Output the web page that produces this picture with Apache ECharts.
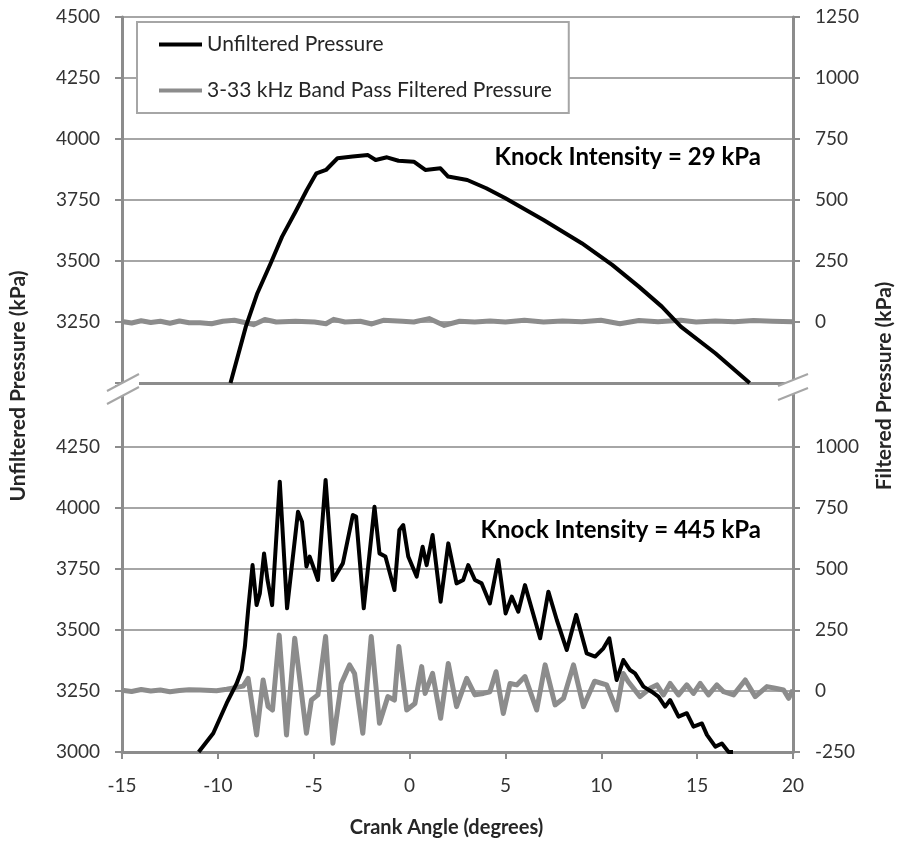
<!DOCTYPE html>
<html>
<head>
<meta charset="utf-8">
<script src="https://cdn.jsdelivr.net/npm/echarts@6/dist/echarts.min.js"></script>
<style>
html,body{margin:0;padding:0;background:#fff;}
#main{width:901px;height:845px;}
</style>
</head>
<body>
<div id="main"></div>
<script>
// crank angle (deg), pressure (kPa) - low knock cycle
var topUnfiltered = [
  [-9.34,3000],[-8.54,3231],[-7.94,3368],[-7.25,3490],[-6.65,3600],[-5.95,3702],[-5.36,3791],
  [-4.96,3846],[-4.86,3859],[-4.36,3873],[-3.76,3921],[-2.97,3928],[-2.17,3934],[-1.77,3914],
  [-1.18,3925],[-0.58,3911],[0.22,3907],[0.82,3873],[1.61,3880],[2.01,3846],[3.01,3832],
  [4.0,3798],[5.0,3757],[6.99,3668],[8.98,3573],[10.57,3484],[11.96,3395],[13.16,3313],
  [14.15,3231],[15.95,3122],[17.74,3000]
];
// band pass filtered (kPa, right axis) - low knock cycle
var topFiltered = [
  [-15,2],[-14.5,-4],[-14,5],[-13.5,-2],[-13,3],[-12.5,-5],[-12,4],[-11.5,-3],
  [-10.93,-3],[-10.33,-7],[-9.74,3],[-9.14,7],[-8.54,-3],[-8.14,-11],[-7.55,10],[-6.95,0],
  [-5.95,3],[-4.96,0],[-4.36,-7],[-3.96,11],[-3.37,0],[-2.57,3],[-1.97,-8],[-1.37,7],
  [-0.38,3],[0.22,0],[1.02,14],[1.81,-14],[2.61,3],[3.4,0],[4.2,4],[5.0,0],[5.99,7],
  [6.99,0],[7.98,4],[8.98,1],[9.98,7],[10.97,-7],[11.96,6],[12.96,1],[14.15,7],[14.95,0],
  [15.95,4],[16.94,1],[17.94,6],[18.93,3],[20,1]
];
// high knock cycle
var knockUnfiltered = [
  [-11.0,3000],[-10.24,3077],[-9.54,3200],[-9.02,3281],[-8.76,3336],[-8.59,3432],[-8.42,3582],
  [-8.19,3766],[-7.98,3602],[-7.81,3650],[-7.59,3814],[-7.41,3705],[-7.17,3602],[-6.77,4108],
  [-6.39,3589],[-5.82,3985],[-5.61,3944],[-5.38,3760],[-5.21,3801],[-4.78,3705],[-4.38,4115],
  [-4.0,3705],[-3.48,3773],[-2.96,3971],[-2.79,3965],[-2.39,3589],[-1.83,4005],[-1.57,3814],
  [-1.26,3801],[-0.79,3664],[-0.53,3910],[-0.33,3930],[-0.07,3801],[0.37,3719],[0.68,3841],
  [0.89,3766],[1.2,3889],[1.62,3616],[2.02,3855],[2.45,3691],[2.8,3705],[3.06,3766],
  [3.41,3705],[3.76,3691],[4.19,3609],[4.63,3787],[5.01,3568],[5.33,3637],[5.67,3575],
  [6.02,3684],[6.81,3466],[7.24,3657],[7.68,3541],[8.2,3418],[8.69,3562],[9.24,3404],
  [9.68,3391],[10.11,3425],[10.42,3466],[10.8,3295],[11.15,3377],[11.5,3336],[11.76,3322],
  [12.2,3268],[12.63,3247],[12.98,3227],[13.33,3186],[13.59,3213],[14.03,3145],[14.46,3159],
  [14.81,3104],[15.25,3117],[15.51,3070],[15.95,3022],[16.29,3035],[16.64,3000],[16.87,3000]
];
var knockFiltered = [
  [-15,3],[-14.5,-2],[-14,6],[-13.5,0],[-13,4],[-12.5,-3],[-12,2],[-11.5,5],[-10.93,4],
  [-10.07,1],[-9.54,7],[-9.02,15],[-8.68,20],[-8.42,52],[-7.98,-180],[-7.64,45],[-7.38,-64],
  [-7.15,-78],[-6.8,229],[-6.42,-180],[-5.99,216],[-5.38,-173],[-5.12,-37],[-4.78,-16],
  [-4.38,223],[-4.0,-214],[-3.56,31],[-3.13,107],[-2.87,72],[-2.44,-173],[-2.0,223],
  [-1.57,-132],[-1.13,-23],[-0.79,-37],[-0.56,182],[-0.15,-78],[0.28,-51],[0.63,100],
  [0.81,-10],[1.2,72],[1.62,-112],[2.02,113],[2.45,-64],[2.98,52],[3.41,-16],[3.85,-10],
  [4.19,-3],[4.51,79],[4.89,-92],[5.24,31],[5.59,25],[6.02,59],[6.63,-78],[7.07,107],
  [7.59,-57],[8.03,-30],[8.55,107],[9.07,-64],[9.65,40],[10.28,25],[10.8,-78],[11.15,72],
  [11.41,38],[12.02,-23],[12.55,11],[12.9,25],[13.24,-16],[13.59,31],[14.03,-16],[14.46,25],
  [14.81,-10],[15.16,31],[15.59,-16],[16.03,25],[16.38,-3],[16.9,-16],[17.51,45],[18.03,-23],
  [18.64,18],[19.07,11],[19.51,4],[19.77,-30],[20,4]
];
var seriesNames = ['Unfiltered Pressure', '3-33 kHz Band Pass Filtered Pressure'];
var knockLabels = ['Knock Intensity = 29 kPa', 'Knock Intensity = 445 kPa'];

var FONT = 'Lato';
var axisGray = '#8c8c8c';
var gridGray = '#a6a6a6';
var labelStyle = {color: '#333', fontFamily: FONT, fontSize: 19};

var chart = echarts.init(document.getElementById('main'));

function xAx(grid, showLabels) {
  return {
    type: 'value', gridIndex: grid, min: -15, max: 20, interval: 5,
    axisLine: {show: true, onZero: false, lineStyle: {color: axisGray, width: 3}},
    axisTick: {show: showLabels, length: 7, lineStyle: {color: axisGray, width: 2}},
    axisLabel: Object.assign({show: showLabels, margin: 24}, labelStyle),
    splitLine: {show: false},
    name: showLabels ? 'Crank Angle (degrees)' : '',
    nameLocation: 'middle', nameGap: 66,
    nameTextStyle: {fontFamily: FONT, fontSize: 20, fontWeight: 'bold', color: '#262626', padding: [0, 22, 0, 0]}
  };
}
function yAx(grid, pos, min, max, hide, split) {
  return {
    type: 'value', gridIndex: grid, position: pos, min: min, max: max, interval: 250,
    axisLine: {show: true, onZero: false, lineStyle: {color: axisGray, width: 3}},
    axisTick: {show: true, length: 7, lineStyle: {color: axisGray, width: 2}},
    axisLabel: Object.assign({margin: 22, formatter: function (v) { return v === hide ? '' : v; }}, labelStyle),
    splitLine: split ? {show: true, lineStyle: {color: split, width: 2}} : {show: false}
  };
}

var lineGray = '#8c8c8c';
var option = {
  backgroundColor: '#fff',
  animation: false,
  grid: [
    {left: 122, right: 108, top: 17, height: 366},
    {left: 122, right: 108, top: 386, height: 366}
  ],
  xAxis: [xAx(0, false), xAx(1, true)],
  yAxis: [
    yAx(0, 'left', 3000, 4500, 3000, gridGray),
    yAx(0, 'right', -250, 1250, -250, null),
    yAx(1, 'left', 3000, 4500, 4500,
        [gridGray, gridGray, gridGray, gridGray, gridGray, gridGray, 'rgba(0,0,0,0)']),
    yAx(1, 'right', -250, 1250, 1250, null)
  ],
  legend: {
    data: seriesNames, orient: 'vertical', left: 137, top: 22,
    padding: [12, 17, 12, 22], itemGap: 25, itemWidth: 43, itemHeight: 4,
    icon: 'rect',
    borderColor: '#a6a6a6', borderWidth: 2, backgroundColor: '#fff',
    textStyle: {fontFamily: FONT, fontSize: 21, lineHeight: 20, color: '#262626', padding: [0, 0, 0, 0]}
  },
  series: [
    {name: seriesNames[1], type: 'line', xAxisIndex: 0, yAxisIndex: 1, data: topFiltered,
      symbol: 'none', z: 2, lineStyle: {color: lineGray, width: 5, join: 'round'}, itemStyle: {color: lineGray}},
    {name: seriesNames[0], type: 'line', xAxisIndex: 0, yAxisIndex: 0, data: topUnfiltered,
      symbol: 'none', z: 3, lineStyle: {color: '#000', width: 4, join: 'round'}, itemStyle: {color: '#000'}},
    {name: seriesNames[1], type: 'line', xAxisIndex: 1, yAxisIndex: 3, data: knockFiltered,
      symbol: 'none', z: 2, lineStyle: {color: lineGray, width: 5, join: 'round'}, itemStyle: {color: lineGray}},
    {name: seriesNames[0], type: 'line', xAxisIndex: 1, yAxisIndex: 2, data: knockUnfiltered,
      symbol: 'none', z: 3, lineStyle: {color: '#000', width: 4, join: 'round'}, itemStyle: {color: '#000'}}
  ],
  graphic: [
    // axis break marks
    {type: 'polygon', z: 100, shape: {points: [[107,391],[139,374],[139,387],[107,404]]}, style: {fill: '#fff'}},
    {type: 'line', z: 101, shape: {x1: 107, y1: 391, x2: 139, y2: 374}, style: {stroke: gridGray, lineWidth: 2}},
    {type: 'line', z: 101, shape: {x1: 107, y1: 404, x2: 139, y2: 387}, style: {stroke: gridGray, lineWidth: 2}},
    {type: 'polygon', z: 100, shape: {points: [[778,386],[808,374],[808,388],[778,400]]}, style: {fill: '#fff'}},
    {type: 'line', z: 101, shape: {x1: 778, y1: 386, x2: 808, y2: 374}, style: {stroke: gridGray, lineWidth: 2}},
    {type: 'line', z: 101, shape: {x1: 778, y1: 400, x2: 808, y2: 388}, style: {stroke: gridGray, lineWidth: 2}},
    {type: 'text', x: 18, y: 386, rotation: Math.PI / 2, z: 50,
      style: {text: 'Unfiltered Pressure (kPa)', fill: '#262626', font: 'bold 21px ' + FONT, textAlign: 'center', textVerticalAlign: 'middle'}},
    {type: 'text', x: 884, y: 386, rotation: Math.PI / 2, z: 50,
      style: {text: 'Filtered Pressure (kPa)', fill: '#262626', font: 'bold 21px ' + FONT, textAlign: 'center', textVerticalAlign: 'middle'}},
    {type: 'text', x: 761, y: 157, z: 50,
      style: {text: knockLabels[0], fill: '#000', font: 'bold 24px ' + FONT, textAlign: 'right', textVerticalAlign: 'middle'}},
    {type: 'text', x: 761, y: 530, z: 50,
      style: {text: knockLabels[1], fill: '#000', font: 'bold 24px ' + FONT, textAlign: 'right', textVerticalAlign: 'middle'}}
  ]
};
chart.setOption(option);
</script>
</body>
</html>
